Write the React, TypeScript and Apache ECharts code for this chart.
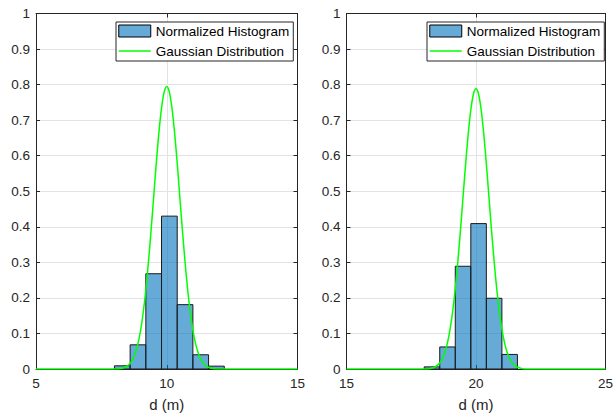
import React, { useEffect, useRef } from "react";
import * as echarts from "echarts";

// Histogram bins: [binStart, binEnd, normalized height]
const histLeft: [number, number, number][] = [
  [8.0, 8.6, 0.009],
  [8.6, 9.2, 0.068],
  [9.2, 9.8, 0.268],
  [9.8, 10.4, 0.43],
  [10.4, 11.0, 0.181],
  [11.0, 11.6, 0.04],
  [11.6, 12.2, 0.008],
];
const histRight: [number, number, number][] = [
  [18.0, 18.6, 0.006],
  [18.6, 19.2, 0.062],
  [19.2, 19.8, 0.289],
  [19.8, 20.4, 0.409],
  [20.4, 21.0, 0.199],
  [21.0, 21.6, 0.041],
];

// Gaussian curves: [x, density]
const gaussLeft: [number, number][] = [
  [5, 0], [7.5, 0], [8.0, 0.0], [8.2, 0.001], [8.4, 0.005], [8.5, 0.009], [8.6, 0.016],
  [8.7, 0.028], [8.8, 0.046], [8.9, 0.072], [9.0, 0.109], [9.1, 0.159],
  [9.2, 0.223], [9.3, 0.301], [9.4, 0.389], [9.5, 0.484], [9.6, 0.579],
  [9.7, 0.665], [9.8, 0.734], [9.9, 0.779], [10.0, 0.795], [10.1, 0.779],
  [10.2, 0.734], [10.3, 0.665], [10.4, 0.579], [10.5, 0.484], [10.6, 0.389],
  [10.7, 0.301], [10.8, 0.223], [10.9, 0.159], [11.0, 0.109], [11.1, 0.072],
  [11.2, 0.046], [11.3, 0.028], [11.4, 0.016], [11.5, 0.009], [11.6, 0.005],
  [11.8, 0.001], [12.0, 0.0], [12.5, 0], [15, 0],
];
const gaussRight: [number, number][] = [
  [15, 0], [17.5, 0], [18.0, 0.0], [18.2, 0.001], [18.4, 0.005], [18.5, 0.01], [18.6, 0.017],
  [18.7, 0.029], [18.8, 0.047], [18.9, 0.074], [19.0, 0.112], [19.1, 0.162],
  [19.2, 0.226], [19.3, 0.303], [19.4, 0.39], [19.5, 0.484], [19.6, 0.577],
  [19.7, 0.661], [19.8, 0.729], [19.9, 0.773], [20.0, 0.788], [20.1, 0.773],
  [20.2, 0.729], [20.3, 0.661], [20.4, 0.577], [20.5, 0.484], [20.6, 0.39],
  [20.7, 0.303], [20.8, 0.226], [20.9, 0.162], [21.0, 0.112], [21.1, 0.074],
  [21.2, 0.047], [21.3, 0.029], [21.4, 0.017], [21.5, 0.01], [21.6, 0.005],
  [21.8, 0.001], [22.0, 0.0], [22.5, 0], [25, 0],
];

const xRangeLeft = [5, 15];
const xRangeRight = [15, 25];
const xLabel = "d (m)";
const histName = "Normalized Histogram";
const gaussName = "Gaussian Distribution";

const FONT = "'Liberation Sans', Arial, Helvetica, sans-serif";
const AX = "#262626";
const GRID = "#e3e3e3";
const BAR_FILL = "rgba(0,114,189,0.6)";

export default function App() {
  const ref = useRef<HTMLDivElement>(null);
  useEffect(() => {
    if (!ref.current) return;
    const chart = echarts.init(ref.current, undefined, { renderer: "svg" });

    const grids = [
      { left: 36, right: 318.5, top: 13.5, bottom: 46 },
      { left: 346.5, right: 6.7, top: 13.5, bottom: 46 },
    ];

    const mainX = (gi: number, range: number[]) => ({
      type: "value",
      gridIndex: gi,
      min: range[0],
      max: range[1],
      interval: 5,
      position: "bottom",
      name: xLabel,
      nameLocation: "middle",
      nameGap: 28,
      nameTextStyle: { fontFamily: FONT, fontSize: 15, color: AX },
      axisLine: { show: true, lineStyle: { color: AX, width: 1 } },
      axisTick: { show: true, inside: true, length: 4, lineStyle: { color: AX } },
      axisLabel: { fontFamily: FONT, fontSize: 13.5, color: AX, margin: 7 },
      splitLine: { show: true, lineStyle: { color: GRID, width: 1 } },
    });
    const topX = (gi: number, range: number[]) => ({
      type: "value",
      gridIndex: gi,
      min: range[0],
      max: range[1],
      interval: 5,
      position: "top",
      axisLine: { show: true, onZero: false, lineStyle: { color: AX, width: 1 } },
      axisTick: { show: true, inside: true, length: 4, lineStyle: { color: AX } },
      axisLabel: { show: false },
      splitLine: { show: false },
    });
    const mainY = (gi: number) => ({
      type: "value",
      gridIndex: gi,
      min: 0,
      max: 1,
      interval: 0.1,
      position: "left",
      axisLine: { show: true, onZero: false, lineStyle: { color: AX, width: 1 } },
      axisTick: { show: true, inside: true, length: 4, lineStyle: { color: AX } },
      axisLabel: {
        fontFamily: FONT,
        fontSize: 13.5,
        color: AX,
        margin: 6,
        formatter: (v: number) => String(Math.round(v * 10) / 10),
      },
      splitLine: { show: true, lineStyle: { color: GRID, width: 1 } },
    });
    const rightY = (gi: number) => ({
      type: "value",
      gridIndex: gi,
      min: 0,
      max: 1,
      interval: 0.1,
      position: "right",
      axisLine: { show: true, onZero: false, lineStyle: { color: AX, width: 1 } },
      axisTick: { show: true, inside: true, length: 4, lineStyle: { color: AX } },
      axisLabel: { show: false },
      splitLine: { show: false },
    });

    const histSeries = (xi: number, yi: number, data: [number, number, number][]) => ({
      type: "custom",
      name: histName,
      xAxisIndex: xi,
      yAxisIndex: yi,
      encode: { x: [0, 1], y: 2 },
      itemStyle: { color: BAR_FILL, borderColor: "#000", borderWidth: 1 },
      renderItem: (params: any, api: any) => {
        const s = api.value(0);
        const e = api.value(1);
        const h = api.value(2);
        const p0 = api.coord([s, h]);
        const p1 = api.coord([e, 0]);
        return {
          type: "rect",
          shape: { x: p0[0], y: p0[1], width: p1[0] - p0[0], height: p1[1] - p0[1] },
          style: { fill: BAR_FILL, stroke: "#1a1a1a", lineWidth: 1 },
        };
      },
      data,
    });
    const lineSeries = (xi: number, yi: number, data: [number, number][]) => ({
      type: "line",
      name: gaussName,
      xAxisIndex: xi,
      yAxisIndex: yi,
      symbol: "none",
      smooth: 0.3,
      lineStyle: { color: "#00ff00", width: 1.5 },
      itemStyle: { color: "#00ff00" },
      data,
    });

    const legend = (left: number) => ({
      orient: "vertical",
      left,
      top: 22,
      padding: [2, 4, 3, 2],
      itemGap: 6,
      itemWidth: 32,
      itemHeight: 12,
      borderColor: AX,
      borderWidth: 1,
      backgroundColor: "#fff",
      selectedMode: false,
      textStyle: { fontFamily: FONT, fontSize: 13.5, color: "#000" },
      data: [
        {
          name: histName,
          icon: "rect",
          itemStyle: { color: BAR_FILL, borderColor: "#000", borderWidth: 1 },
        },
        {
          name: gaussName,
          itemStyle: { color: "transparent", borderColor: "transparent", borderWidth: 0, opacity: 0 },
          lineStyle: { color: "#00ff00", width: 1.5, opacity: 1 },
        },
      ],
    });

    chart.setOption({
      animation: false,
      backgroundColor: "#fff",
      grid: grids,
      legend: [legend(116), legend(427)],
      xAxis: [
        mainX(0, xRangeLeft),
        topX(0, xRangeLeft),
        mainX(1, xRangeRight),
        topX(1, xRangeRight),
      ],
      yAxis: [mainY(0), rightY(0), mainY(1), rightY(1)],
      series: [
        histSeries(0, 0, histLeft),
        lineSeries(0, 0, gaussLeft),
        histSeries(2, 2, histRight),
        lineSeries(2, 2, gaussRight),
      ],
    });
    return () => chart.dispose();
  }, []);
  return (
    <div
      ref={ref}
      style={{ position: "fixed", left: 0, top: 0, width: 616, height: 417 }}
    />
  );
}
